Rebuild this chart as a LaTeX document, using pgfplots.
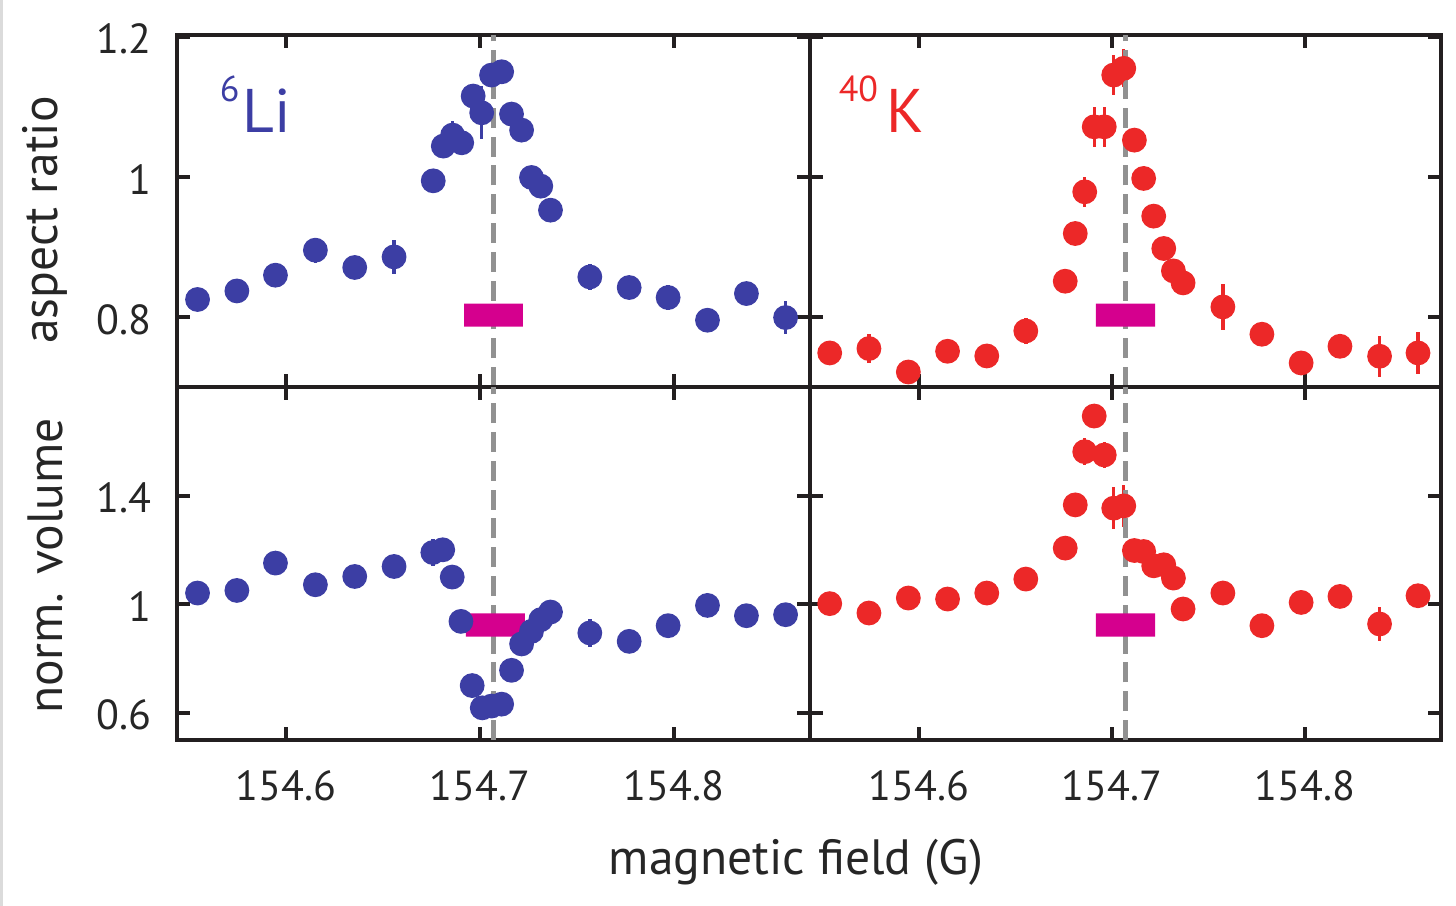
\documentclass[border=0pt]{standalone}
\usepackage{fontspec}
\setmainfont{PT Sans}
\usepackage{pgfplots}
\usepackage{pgfplotstable}
\pgfplotsset{compat=1.18}

\definecolor{liblue}{RGB}{60,62,164}
\definecolor{kred}{RGB}{236,40,40}
\definecolor{resbar}{RGB}{213,0,142}
\definecolor{dashgray}{RGB}{145,145,145}
\definecolor{frame}{RGB}{35,31,32}

% columns: field (G), value, error
\pgfplotstableread{
x y e
154.5543 0.8249 0
154.5746 0.8371 0
154.5945 0.8596 0
154.6151 0.8953 0.018
154.6354 0.8706 0
154.6557 0.8857 0.024
154.6759 0.9943 0
154.6811 1.0439 0
154.6859 1.0596 0.020
154.6906 1.0486 0
154.6965 1.1153 0
154.7009 1.0914 0.038
154.7060 1.1453 0
154.7112 1.1500 0
154.7163 1.0896 0
154.7215 1.0667 0
154.7266 0.9991 0
154.7314 0.9867 0
154.7364 0.9524 0
154.7567 0.8571 0.019
154.7770 0.8420 0
154.7971 0.8277 0.018
154.8174 0.7953 0
154.8375 0.8334 0
154.8577 0.7991 0.024
}\liasp

\pgfplotstableread{
x y e
154.5539 0.7486 0
154.5742 0.7549 0.021
154.5946 0.7214 0
154.6149 0.7510 0
154.6352 0.7443 0
154.6554 0.7800 0.019
154.6758 0.8510 0
154.6810 0.9191 0
154.6859 0.9786 0.021
154.6908 1.0714 0.029
154.6960 1.0714 0.029
154.7009 1.1453 0.029
154.7061 1.1549 0.027
154.7116 1.0524 0
154.7164 0.9977 0
154.7216 0.9439 0
154.7268 0.8977 0
154.7318 0.8657 0
154.7368 0.8486 0
154.7574 0.8143 0.033
154.7776 0.7753 0
154.7979 0.7343 0
154.8180 0.7581 0
154.8385 0.7439 0.029
154.8584 0.7486 0.030
}\kasp

\pgfplotstableread{
x y e
154.5543 1.0412 0
154.5746 1.0507 0
154.5945 1.1515 0
154.6151 1.0717 0
154.6354 1.1022 0
154.6557 1.1390 0
154.6757 1.1904 0.05
154.6808 1.2004 0
154.6857 1.1000 0
154.6902 0.9368 0
154.6960 0.7004 0
154.7012 0.6184 0
154.7060 0.6250 0
154.7112 0.6320 0
154.7163 0.7566 0
154.7215 0.8537 0
154.7266 0.9000 0
154.7314 0.9430 0
154.7364 0.9713 0
154.7567 0.8941 0.05
154.7770 0.8632 0
154.7971 0.9210 0
154.8174 0.9956 0
154.8375 0.9577 0
154.8577 0.9614 0
}\livol

\pgfplotstableread{
x y e
154.5539 1.0022 0
154.5742 0.9676 0
154.5946 1.0228 0
154.6149 1.0191 0
154.6352 1.0412 0
154.6554 1.0926 0
154.6758 1.2066 0
154.6810 1.3658 0
154.6859 1.5618 0.049
154.6908 1.6930 0
154.6960 1.5496 0.049
154.7009 1.3537 0.077
154.7061 1.3621 0.077
154.7116 1.1978 0
154.7164 1.1941 0
154.7216 1.1415 0
154.7268 1.1452 0
154.7318 1.0963 0
154.7368 0.9824 0
154.7574 1.0412 0
154.7776 0.9210 0
154.7979 1.0066 0
154.8180 1.0287 0
154.8385 0.9272 0.061
154.8584 1.0313 0
}\kvol

\pgfplotsset{
  panel/.style={
    scale only axis,
    anchor=south west,
    xmin=154.5437, xmax=154.8703,
    xtick={154.6,154.7,154.8},
    tick align=inside,
    major tick length=3.3pt,
    tick style={line width=0.95pt, color=frame},
    axis line style={line width=0.95pt, color=frame},
    ticklabel style={font=\fontsize{10.5}{12}\selectfont, color=black!85},
    yticklabel style={inner sep=0pt, xshift=-6.2pt, yshift=-0.6pt},
    xticklabel style={inner sep=0pt, yshift=-7.5pt},
    /pgf/number format/assume math mode=true,
    clip=true,
  },
  toprow/.style={ymin=0.7, ymax=1.2025, ytick={0.8,1,1.2}, height=88pt},
  botrow/.style={ymin=0.5, ymax=1.8, ytick={0.6,1,1.4}, height=88.25pt},
  data/.style={only marks, mark=*, mark size=2.9pt, color=#1,
    error bars/.cd, y dir=both, y explicit, error mark=none,
    error bar style={line width=0.85pt, color=#1}},
  resline/.style={dashgray, line width=1.05pt, dash pattern=on 5pt off 2.2pt},
}

\begin{document}
\begin{tikzpicture}
\useasboundingbox (0,0) rectangle (364pt,-226.5pt);
\draw[black!14, line width=0.7pt] (0.35pt,0) -- (0.35pt,-226.5pt);

% aspect ratio, 6Li
\begin{axis}[panel, toprow, at={(44.25pt,-96.75pt)}, width=158.25pt,
  xticklabels={}, yticklabels={0.8,1,1.2}]
  \addplot[data=liblue] table[x=x, y=y, y error=e] {\liasp};
  \addplot[resline] coordinates {(154.707,0.7) (154.707,1.2025)};
  \addplot[fill=resbar, draw=none] coordinates
    {(154.6918,0.786) (154.7222,0.786) (154.7222,0.819) (154.6918,0.819) (154.6918,0.786)};
\end{axis}

% aspect ratio, 40K
\begin{axis}[panel, toprow, at={(202.5pt,-96.75pt)}, width=157.75pt,
  xticklabels={}, yticklabels={}]
  \addplot[data=kred] table[x=x, y=y, y error=e] {\kasp};
  \addplot[resline] coordinates {(154.707,0.7) (154.707,1.2025)};
  \addplot[fill=resbar, draw=none] coordinates
    {(154.6917,0.786) (154.7223,0.786) (154.7223,0.819) (154.6917,0.819) (154.6917,0.786)};
\end{axis}

% normalised volume, 6Li
\begin{axis}[panel, botrow, at={(44.25pt,-185pt)}, width=158.25pt,
  xticklabels={154.6,154.7,154.8}, yticklabels={0.6,1,1.4}]
  \addplot[data=liblue] table[x=x, y=y, y error=e] {\livol};
  \addplot[resline] coordinates {(154.707,0.5) (154.707,1.8)};
  \addplot[fill=resbar, draw=none] coordinates
    {(154.6928,0.8805) (154.7232,0.8805) (154.7232,0.9667) (154.6928,0.9667) (154.6928,0.8805)};
\end{axis}

% normalised volume, 40K
\begin{axis}[panel, botrow, at={(202.5pt,-185pt)}, width=157.75pt,
  xticklabels={154.6,154.7,154.8}, yticklabels={}]
  \addplot[data=kred] table[x=x, y=y, y error=e] {\kvol};
  \addplot[resline] coordinates {(154.707,0.5) (154.707,1.8)};
  \addplot[fill=resbar, draw=none] coordinates
    {(154.6917,0.8805) (154.7223,0.8805) (154.7223,0.9667) (154.6917,0.9667) (154.6917,0.8805)};
\end{axis}

% species labels
\node[anchor=base west, inner sep=0pt, text=liblue, font=\fontsize{9}{10}\selectfont] at (54.75pt,-25.5pt) {6};
\node[anchor=base west, inner sep=0pt, text=liblue, font=\fontsize{15.4}{17}\selectfont] at (60.5pt,-33.25pt) {Li};
\node[anchor=base west, inner sep=0pt, text=kred, font=\fontsize{9}{10}\selectfont] at (209.5pt,-25.5pt) {40};
\node[anchor=base west, inner sep=0pt, text=kred, font=\fontsize{15.4}{17}\selectfont] at (221.5pt,-33.25pt) {K};

% axis titles
\node[rotate=90, inner sep=0pt, font=\fontsize{12.4}{14}\selectfont, text=black!85] at (11.25pt,-55pt) {aspect ratio};
\node[rotate=90, inner sep=0pt, font=\fontsize{12.4}{14}\selectfont, text=black!85] at (11.25pt,-141.5pt) {norm. volume};
\node[inner sep=0pt, font=\fontsize{12.4}{14}\selectfont, text=black!85] at (199pt,-215.5pt) {magnetic field (G)};
\end{tikzpicture}
\end{document}
